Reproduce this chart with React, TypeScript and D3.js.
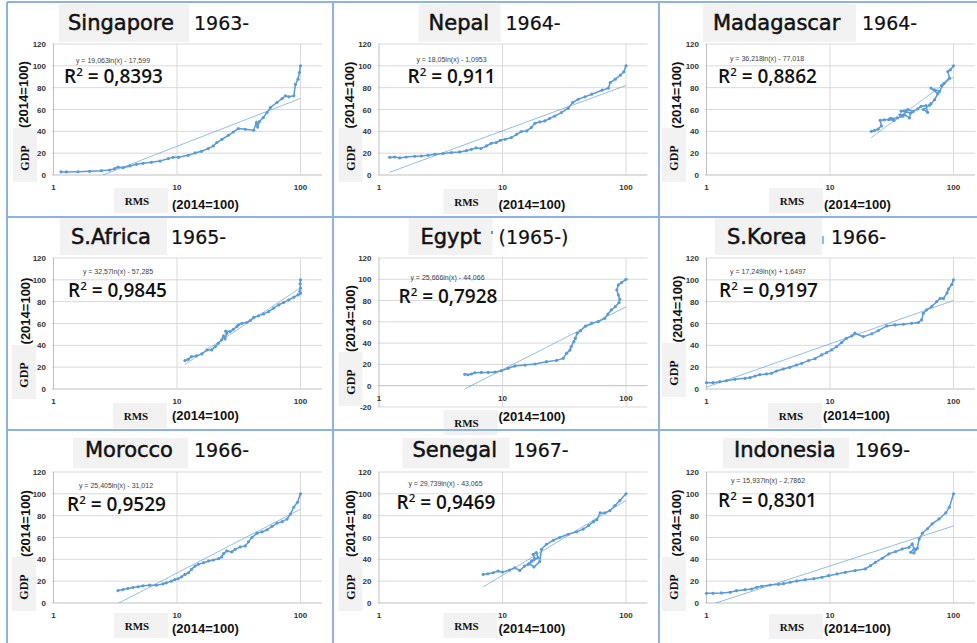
import React from "react";
import * as d3 from "d3";

// ---------- data ----------
const countries = ["Singapore", "Nepal", "Madagascar", "S.Africa", "Egypt", "S.Korea", "Morocco", "Senegal", "Indonesia"];
const years = ["1963-", "1964-", "1964-", "1965-", "(1965-)", "1966-", "1966-", "1967-", "1969-"];
const equations = [
  "y = 19,063ln(x) - 17,599",
  "y = 18,05ln(x) - 1,0953",
  "y = 36,218ln(x) - 77,018",
  "y = 32,57ln(x) - 57,285",
  "y = 25,666ln(x) - 44,066",
  "y = 17,249ln(x) + 1,6497",
  "y = 25,405ln(x) - 31,012",
  "y = 29,739ln(x) - 43,065",
  "y = 15,937ln(x) - 2,7862",
];
const r2Values = ["0,8393", "0,911", "0,8862", "0,9845", "0,7928", "0,9197", "0,9529", "0,9469", "0,8301"];
const trendA = [19.063, 18.05, 36.218, 32.57, 25.666, 17.249, 25.405, 29.739, 15.937];
const trendB = [-17.599, -1.0953, -77.018, -57.285, -44.066, 1.6497, -31.012, -43.065, -2.7862];
const yMinValues = [0, 0, 0, 0, -20, 0, 0, 0, 0];
const xTicks = [1, 10, 100];

const singaporeRms = [1.15, 1.27, 1.58, 1.96, 2.44, 2.85, 3.13, 3.33, 3.66, 4.15, 4.7, 5.3, 6.2, 7.3, 8.5, 9.3, 10.3, 12.3, 14.0, 15.8, 17.9, 19.7, 21.0, 23.1, 26.1, 28.6, 31.4, 35.7, 41.8, 44.0, 45.0, 46.5, 50, 53.5, 57, 64.4, 70.9, 75.5, 80.4, 88.3, 91, 95.5, 98, 100];
const singaporeGdp = [2.8, 2.8, 3, 3.4, 4, 4.6, 5.8, 7.3, 6.7, 8.3, 9.8, 10.7, 11.6, 12.8, 15, 16.2, 16.2, 18, 20.2, 21.7, 24.2, 26.6, 29.7, 32.7, 36.4, 39.4, 42.5, 41.9, 41, 48, 44, 49, 52.6, 57.2, 61.8, 66.4, 70, 72.5, 71.6, 72.5, 83, 87.8, 93.9, 100];

const nepalRms = [1.22, 1.34, 1.47, 1.66, 1.95, 2.2, 2.5, 2.83, 3.3, 3.86, 4.5, 5.1, 5.6, 6.1, 6.7, 7.4, 8.1, 8.9, 9.6, 10.5, 11.8, 13.0, 14.2, 15.7, 17.1, 18.3, 20, 22, 24, 26.5, 30, 34, 37, 41, 46.6, 52.7, 64, 72, 74.5, 82, 90, 96, 100];
const nepalGdp = [16.2, 16.5, 15.6, 16.5, 17.1, 17.4, 18, 19, 19.6, 20.5, 21.1, 22.3, 23.5, 24.8, 24.2, 26.6, 29, 29.7, 31.8, 32.7, 34.3, 37.3, 39.8, 40.4, 43.4, 47.4, 48.6, 49.5, 51.7, 54, 57.2, 61.2, 66.4, 69.4, 71.6, 74, 77.7, 79.5, 84.7, 87.8, 91.4, 94.5, 100];

const madagascarRms = [21.6, 22.9, 24.5, 26.1, 25.5, 27.5, 30, 33, 31, 35, 38.8, 37, 40, 43.9, 45, 41, 37.7, 42.7, 47, 51.3, 54.6, 59.8, 61.7, 57, 64, 65.7, 70.4, 74.7, 65.7, 70, 77, 84, 80, 92.8, 90, 94.4, 100];
const madagascarGdp = [40, 40.7, 42, 45, 50, 50.5, 50.8, 50, 52, 52.3, 53.8, 55, 55.3, 52.3, 56.8, 58, 58.4, 59.9, 58, 60.5, 62.9, 63.5, 57.4, 60, 64, 65.3, 69, 74.5, 79.6, 78, 76.6, 84, 82, 88.7, 94.8, 96.4, 100];

const safricaRms = [11.6, 12.3, 13.1, 14.4, 15.9, 17.5, 19.1, 20.4, 21.6, 23, 23.8, 24.5, 25.3, 24.8, 26.9, 28.6, 30.5, 31.4, 33.5, 36.7, 39.2, 41.8, 45.7, 50.3, 55.2, 60.6, 66.6, 73, 80.4, 88.3, 95.6, 100, 98.9, 100, 99.4, 100];
const safricaGdp = [26, 27.2, 29.7, 30.3, 32.1, 35.8, 35.8, 38.8, 41.9, 45, 48.6, 46, 51, 53, 52.6, 54.7, 57.2, 58.7, 60.2, 60.9, 62.7, 65.7, 67, 68.8, 70.9, 74, 77, 79.2, 81.7, 84.1, 86.2, 87.8, 89.3, 92.4, 96.3, 100];

const egyptRms = [4.95, 5.26, 5.6, 5.96, 6.75, 7.65, 8.7, 9.8, 11.1, 12.6, 15.2, 18.3, 22.7, 27.4, 31, 33, 35.2, 36, 37.8, 38.9, 40.2, 42.8, 46.8, 52.7, 59.5, 67.2, 71.4, 76, 81.9, 87.8, 89, 86.7, 84.3, 86.7, 92, 100];
const egyptGdp = [10.7, 10.3, 11, 12.2, 12.5, 12.5, 12.9, 14.1, 16.3, 18.5, 19.4, 20.4, 22.6, 23.8, 25.7, 30.4, 33.5, 36.7, 41.4, 44.5, 49.2, 51.7, 56.1, 58.6, 60.2, 63.3, 67.4, 71.2, 74.3, 78, 81.2, 85.3, 90, 94.7, 96.9, 100];

const skoreaRms = [1, 1.13, 1.28, 1.45, 1.7, 2.05, 2.25, 2.47, 2.7, 3.06, 3.36, 3.69, 4.18, 4.73, 5.35, 5.9, 6.7, 7.56, 8.55, 9.4, 10.3, 11.3, 12.4, 13.6, 15, 15.9, 18.6, 21.8, 24.6, 28.8, 33.6, 39.3, 45.8, 51.9, 55.1, 57, 60.6, 66.6, 73, 78, 83, 88.6, 91.3, 96.6, 100];
const skoreaGdp = [5.8, 5.8, 6.7, 7.6, 8.9, 9.8, 10.4, 11.9, 13.1, 13.8, 14.4, 16.5, 18.3, 19.9, 22, 23.5, 26, 27.8, 31.2, 33.3, 35.8, 38.8, 42.5, 46.5, 48.6, 51.1, 48, 50.5, 53.5, 57.8, 58.7, 59.3, 60.2, 60.9, 63.3, 69.4, 72.5, 75.5, 80, 83, 83, 88, 91.7, 95.7, 100];

const moroccoRms = [3.33, 3.66, 4.0, 4.4, 4.84, 5.3, 6.0, 6.8, 7.7, 8.2, 9.0, 9.6, 10.2, 10.9, 11.6, 12.4, 13.1, 14, 14.9, 16.4, 18, 19.7, 21.7, 23, 23.8, 25.3, 27.8, 29.6, 32.5, 35.7, 37.9, 40.4, 44.5, 48.9, 53.6, 58.8, 64.6, 71, 77.9, 82.8, 88.2, 94.6, 100];
const moroccoGdp = [11.4, 12.3, 13.2, 14.2, 14.8, 15.7, 16.3, 16.3, 17.5, 18.5, 20, 21.5, 22.2, 24, 26.2, 27.7, 30.8, 33.8, 35.4, 36.9, 38.5, 39.4, 40.6, 42.2, 45.2, 47.7, 46.8, 49.2, 51.4, 52.3, 56, 60, 64, 65.2, 67.1, 70.2, 73.2, 74.5, 76.9, 81.5, 87.7, 92.3, 100];

const senegalRms = [6.97, 7.6, 8.4, 9.2, 10, 11.4, 12.6, 13.8, 15.1, 16.1, 17.2, 18.2, 17.7, 18.8, 19.4, 16.5, 18, 20, 20.7, 22.7, 25.8, 29, 34, 39.8, 45, 49.7, 54.6, 58.1, 61.7, 67.5, 74.1, 81.4, 89.3, 100];
const senegalGdp = [26.2, 26.8, 27.7, 29.2, 28.3, 30.2, 32.3, 29.8, 33.8, 35.4, 38.5, 40.6, 44.6, 46.2, 41.5, 36, 33, 38, 49.2, 53.8, 57.5, 60, 63, 65.2, 67.7, 70.8, 74.5, 76.3, 82.5, 82.5, 84.6, 89.2, 93.8, 100];

const indonesiaRms = [1, 1.13, 1.32, 1.55, 1.75, 2.05, 2.32, 2.55, 2.8, 3.27, 3.83, 4.2, 4.76, 5.4, 6.3, 7.4, 8.6, 9.75, 11.4, 13.3, 16, 19.3, 21.3, 23.3, 26.5, 30, 34, 38.5, 43.6, 46.4, 47.9, 45, 47.9, 49.5, 51, 52.7, 56, 61.5, 67.2, 76.4, 86.7, 92.6, 100];
const indonesiaGdp = [8.9, 8.9, 9.2, 9.8, 11.3, 12.2, 12.8, 14.4, 15.3, 16.5, 17.1, 17.7, 19, 20.2, 21.4, 22.3, 23.5, 25, 26.6, 28.1, 29.7, 31.2, 34.2, 37.3, 41, 45, 47.1, 49.5, 51, 54.1, 49.5, 46.5, 45.9, 48.9, 50.2, 58.7, 64, 68, 72.5, 77, 82.6, 87.8, 100];

const rmsSeries = [singaporeRms, nepalRms, madagascarRms, safricaRms, egyptRms, skoreaRms, moroccoRms, senegalRms, indonesiaRms];
const gdpSeries = [singaporeGdp, nepalGdp, madagascarGdp, safricaGdp, egyptGdp, skoreaGdp, moroccoGdp, senegalGdp, indonesiaGdp];

// ---------- layout ----------
const COL_X = [0, 325.5, 653];
const ROW_Y = [0, 214, 428];
type Lay = {
  tb: number[]; tx: number; yx: number; tBase: number; eq: number[]; r2: number[];
  gdp: number[]; yT: number[]; rms: number[]; xT: number[];
};
const layouts: Lay[] = [
  { tb: [59, 189, 4, 42], tx: 68, yx: 194, tBase: 30, eq: [113, 63], r2: [64, 83], gdp: [13, 128], yT: [23.5, 94.5], rms: [114, 188], xT: [172, 209] },
  { tb: [93, 175, 4, 42], tx: 103, yx: 180, tBase: 30, eq: [126, 62], r2: [82, 83], gdp: [13, 128], yT: [24, 95], rms: [118, 189], xT: [173, 209] },
  { tb: [50, 203, 4, 42], tx: 60, yx: 209, tBase: 30, eq: [114, 61], r2: [65, 83], gdp: [9, 128], yT: [23, 95], rms: [116, 188], xT: [171, 209] },
  { tb: [60, 167, 4, 41], tx: 71, yx: 171, tBase: 30, eq: [118, 60], r2: [68, 83], gdp: [12, 131], yT: [25, 97], rms: [113, 189], xT: [172, 206] },
  { tb: [83, 167, 4, 41], tx: 95, yx: 173, tBase: 30, eq: [122, 66], r2: [73, 89], gdp: [13, 138], yT: [25, 104.5], rms: [118, 196], xT: [173, 207] },
  { tb: [62, 169, 4, 41], tx: 74, yx: 178, tBase: 30, eq: [115, 60], r2: [66, 83], gdp: [9, 129], yT: [24, 95], rms: [115, 189], xT: [170, 206] },
  { tb: [73, 188, 10, 40], tx: 85, yx: 194, tBase: 29, eq: [116, 60], r2: [67, 83], gdp: [12, 129], yT: [25, 95.5], rms: [114, 185], xT: [172, 205] },
  { tb: [77, 184, 10, 40], tx: 87, yx: 188, tBase: 29, eq: [120, 58], r2: [71, 81], gdp: [13, 129], yT: [25, 95.5], rms: [118, 185], xT: [173, 205] },
  { tb: [70, 196, 10, 40], tx: 81, yx: 202, tBase: 29, eq: [115, 55], r2: [65, 79], gdp: [9, 129], yT: [23, 95], rms: [116, 186], xT: [171, 205] },
];

const BLUE = "#5b9bd5";
const GRID = "#d9d9d9";
const BOX = "#f2f2f2";
const BORDER = "#8db3e2";

function Panel({ i }: { i: number }) {
  const ox = COL_X[i % 3];
  const oy = ROW_Y[Math.floor(i / 3)];
  const L = layouts[i];
  const yMin = yMinValues[i];
  const plotLeft = ox + 52;
  const plotRight = ox + 322;
  const plotTop = oy + 44;
  const plotBottom = yMin < 0 ? oy + 193 : oy + 175;
  const x = d3.scaleLog().domain([1, 100]).range([ox + 53.5, ox + 300.5]);
  const y = d3.scaleLinear().domain([yMin, 120]).range([plotBottom, plotTop]);
  const yTicks = d3.range(yMin, 121, 20);
  const xs = rmsSeries[i];
  const ys = gdpSeries[i];
  const pts: [number, number][] = xs.map((v, k) => [v, ys[k]]);
  const line = d3.line<[number, number]>().x((d) => x(d[0])).y((d) => y(d[1]));
  const x0 = d3.min(xs) as number;
  const x1 = d3.max(xs) as number;
  const trendPts: [number, number][] = d3.range(0, 81).map((k) => {
    const xv = x0 * Math.pow(x1 / x0, k / 80);
    return [xv, trendA[i] * Math.log(xv) + trendB[i]];
  });
  const clipId = `clip${i}`;
  const y0 = y(0);
  return (
    <g>
      <defs>
        <clipPath id={clipId}>
          <rect x={plotLeft} y={plotTop} width={plotRight - plotLeft} height={plotBottom - plotTop} />
        </clipPath>
      </defs>
      {/* title */}
      <rect x={ox + L.tb[0]} y={oy + L.tb[2]} width={L.tb[1] - L.tb[0]} height={L.tb[3] - L.tb[2]} fill={BOX} />
      <text x={ox + L.tx} y={oy + L.tBase} fontFamily="DejaVu Sans" fontSize={21} fill="#111" stroke="#111" strokeWidth={0.5}>{countries[i]}</text>
      <text x={ox + L.yx} y={oy + L.tBase} fontFamily="DejaVu Sans" fontSize={19} fill="#111" stroke="#111" strokeWidth={0.2}>{years[i]}</text>
      {/* grid */}
      {yTicks.map((t) => (
        <line key={"h" + t} x1={plotLeft} x2={plotRight} y1={y(t)} y2={y(t)} stroke={t === 0 ? "#bfbfbf" : GRID} strokeWidth={1} />
      ))}
      {xTicks.map((t) => (
        <line key={"v" + t} x1={x(t)} x2={x(t)} y1={plotTop} y2={plotBottom} stroke={t === 1 ? "#bfbfbf" : GRID} strokeWidth={1} />
      ))}
      {yTicks.map((t) => (
        <text key={"yl" + t} x={ox + 46} y={y(t) + 3} textAnchor="end" fontFamily="Liberation Sans" fontWeight="bold" fontSize={8} fill="#333">{t}</text>
      ))}
      {xTicks.map((t) => (
        <text key={"xl" + t} x={x(t)} y={y0 + 15} textAnchor="middle" fontFamily="Liberation Sans" fontWeight="bold" fontSize={8} fill="#333">{t}</text>
      ))}
      {/* series */}
      <g clipPath={`url(#${clipId})`}>
        <path d={line(trendPts) || ""} fill="none" stroke={BLUE} strokeWidth={0.8} opacity={0.85} />
      </g>
      <path d={line(pts) || ""} fill="none" stroke={BLUE} strokeWidth={1.5} />
      {pts.map((d, k) => (
        <circle key={k} cx={x(d[0])} cy={y(d[1])} r={1.6} fill={BLUE} />
      ))}
      {/* equation */}
      <text x={ox + L.eq[0]} y={oy + L.eq[1]} textAnchor="middle" fontFamily="Liberation Sans" fontSize={7} fill="#404040">{equations[i]}</text>
      <text x={ox + L.r2[0]} y={oy + L.r2[1]} fontFamily="Open Sans" fontWeight={600} fontSize={19} fill="#111">
        R<tspan fontSize={11.5} dy={-7.5}>2</tspan><tspan dy={7.5}>{" = " + r2Values[i]}</tspan>
      </text>
      {/* axis titles */}
      <text transform={`translate(${ox + L.yT[0]},${oy + L.yT[1]}) rotate(-90)`} textAnchor="middle" dy="0.35em" fontFamily="Liberation Sans" fontWeight="bold" fontSize={13} fill="#111">(2014=100)</text>
      <rect x={ox + L.gdp[0]} y={oy + L.gdp[1]} width={24} height={54} fill={BOX} />
      <text transform={`translate(${ox + L.gdp[0] + 12},${oy + L.gdp[1] + 30}) rotate(-90)`} textAnchor="middle" dy="0.35em" fontFamily="Liberation Serif" fontWeight="bold" fontSize={12} fill="#111">GDP</text>
      <rect x={ox + L.rms[0]} y={oy + L.rms[1]} width={54} height={25} fill={BOX} />
      <text x={ox + L.rms[0] + 23} y={oy + L.rms[1] + 17} textAnchor="middle" fontFamily="Liberation Serif" fontWeight="bold" fontSize={11} fill="#111">RMS</text>
      <text x={ox + L.xT[0]} y={oy + L.xT[1]} fontFamily="Liberation Sans" fontWeight="bold" fontSize={13} fill="#111">(2014=100)</text>
    </g>
  );
}

export default function App() {
  return (
    <svg width={977} height={643} style={{ position: "absolute", left: 0, top: 0, background: "#fff" }} xmlns="http://www.w3.org/2000/svg">
      <rect x={0} y={0} width={977} height={643} fill="#fff" />
      {countries.map((c, i) => (
        <Panel key={c} i={i} />
      ))}
      {/* small cursor artifacts next to titles */}
      <rect x={491} y={231} width={2} height={3} fill={BLUE} />
      <rect x={822} y={236} width={2} height={8} fill={BLUE} opacity={0.7} />
      {/* panel borders */}
      {[7, 333, 659].map((bx) => (
        <line key={"bv" + bx} x1={bx} x2={bx} y1={2} y2={643} stroke={BORDER} strokeWidth={2} />
      ))}
      {[2, 217, 430].map((by) => (
        <line key={"bh" + by} x1={7} x2={977} y1={by} y2={by} stroke={BORDER} strokeWidth={2} />
      ))}
    </svg>
  );
}
